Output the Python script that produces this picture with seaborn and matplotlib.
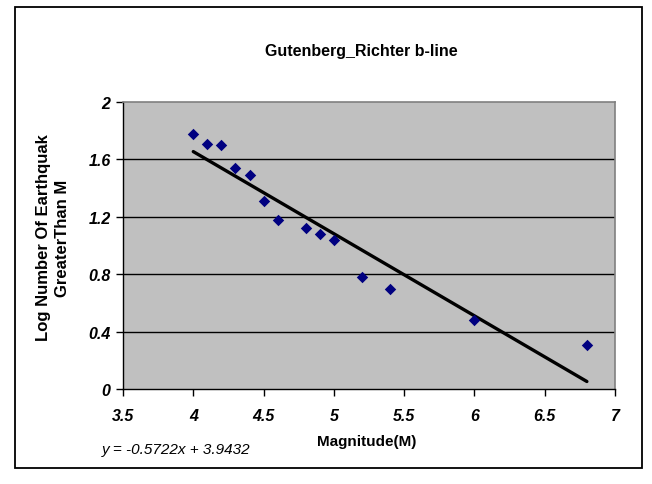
import matplotlib
matplotlib.use("Agg")
import matplotlib.pyplot as plt
import matplotlib.patches as mpatches
import seaborn as sns
import numpy as np
import pandas as pd

magnitude = [4.0, 4.1, 4.2, 4.3, 4.4, 4.5, 4.6, 4.8, 4.9, 5.0, 5.2, 5.4, 6.0, 6.8]
log_count = [1.78, 1.71, 1.70, 1.54, 1.49, 1.31, 1.18, 1.12, 1.08, 1.04, 0.78, 0.70, 0.48, 0.31]
slope = -0.5722
intercept = 3.9432
x_ticks = [3.5, 4, 4.5, 5, 5.5, 6, 6.5, 7]
x_tick_labels = ["3.5", "4", "4.5", "5", "5.5", "6", "6.5", "7"]
y_ticks = [0, 0.4, 0.8, 1.2, 1.6, 2]
y_tick_labels = ["0", "0.4", "0.8", "1.2", "1.6", "2"]

sns.set_theme(style="white")
plt.rcParams["font.family"] = ["Liberation Sans", "DejaVu Sans"]
plt.rcParams["text.color"] = "black"
plt.rcParams["xtick.color"] = "black"
plt.rcParams["ytick.color"] = "black"
plt.rcParams["xtick.labelcolor"] = "black"
plt.rcParams["ytick.labelcolor"] = "black"

df = pd.DataFrame({"Magnitude": magnitude, "LogN": log_count})

W, H = 652, 485
fig = plt.figure(figsize=(W / 100, H / 100), dpi=100)
fig.patch.set_facecolor("white")
ax = fig.add_axes([123 / W, 1 - 390 / H, 492 / W, 287 / H])
ax.set_facecolor("#C0C0C0")

for yv in y_ticks[1:-1]:
    ax.axhline(yv, color="black", lw=1.0, zorder=1)

line_x = np.array([min(magnitude), max(magnitude)])
ax.plot(line_x, slope * line_x + intercept, color="black", lw=2.4, zorder=2)

sns.scatterplot(data=df, x="Magnitude", y="LogN", marker="D", s=34,
                color="#000080", edgecolor="#000080", linewidth=0, ax=ax, zorder=3)

ax.set_xlim(3.5, 7)
ax.set_ylim(0, 2)
ax.set_xticks(x_ticks)
ax.set_xticklabels(x_tick_labels)
ax.set_yticks(y_ticks)
ax.set_yticklabels(y_tick_labels)
for lab in ax.get_xticklabels() + ax.get_yticklabels():
    lab.set_fontweight("bold")
    lab.set_fontstyle("italic")
    lab.set_fontsize(11.5)
    lab.set_color("black")
ax.tick_params(axis="both", direction="out", length=5, width=1, color="black",
               labelcolor="black", bottom=True, left=True)
ax.tick_params(axis="x", pad=9)
ax.tick_params(axis="y", pad=4)
ax.set_xlabel("")
ax.set_ylabel("")

for side in ["top", "right"]:
    ax.spines[side].set_color("#808080")
    ax.spines[side].set_linewidth(1.2)
for side in ["left", "bottom"]:
    ax.spines[side].set_color("black")
    ax.spines[side].set_linewidth(1.0)

fig.text(361 / W, 1 - 52 / H, "Gutenberg_Richter b-line", ha="center", va="center",
         fontsize=11.5, fontweight="bold", color="black")
fig.text(367 / W, 1 - 442 / H, "Magnitude(M)", ha="center", va="center",
         fontsize=11, fontweight="bold", color="black")
fig.text(53 / W, 1 - 238 / H, "Log Number Of Earthquak\nGreaterThan M", ha="center",
         va="center", rotation=90, fontsize=12, fontweight="bold", linespacing=1.3,
         color="black")
fig.text(102 / W, 1 - 450 / H, "y = -0.5722x + 3.9432", ha="left", va="center",
         fontsize=11, fontstyle="italic", color="black")

fig.patches.append(mpatches.Rectangle((15 / W, 1 - 469 / H), 627 / W, 461 / H,
                                      transform=fig.transFigure, fill=False,
                                      ec="black", lw=1.3))

fig.savefig("out.png", dpi=100)
